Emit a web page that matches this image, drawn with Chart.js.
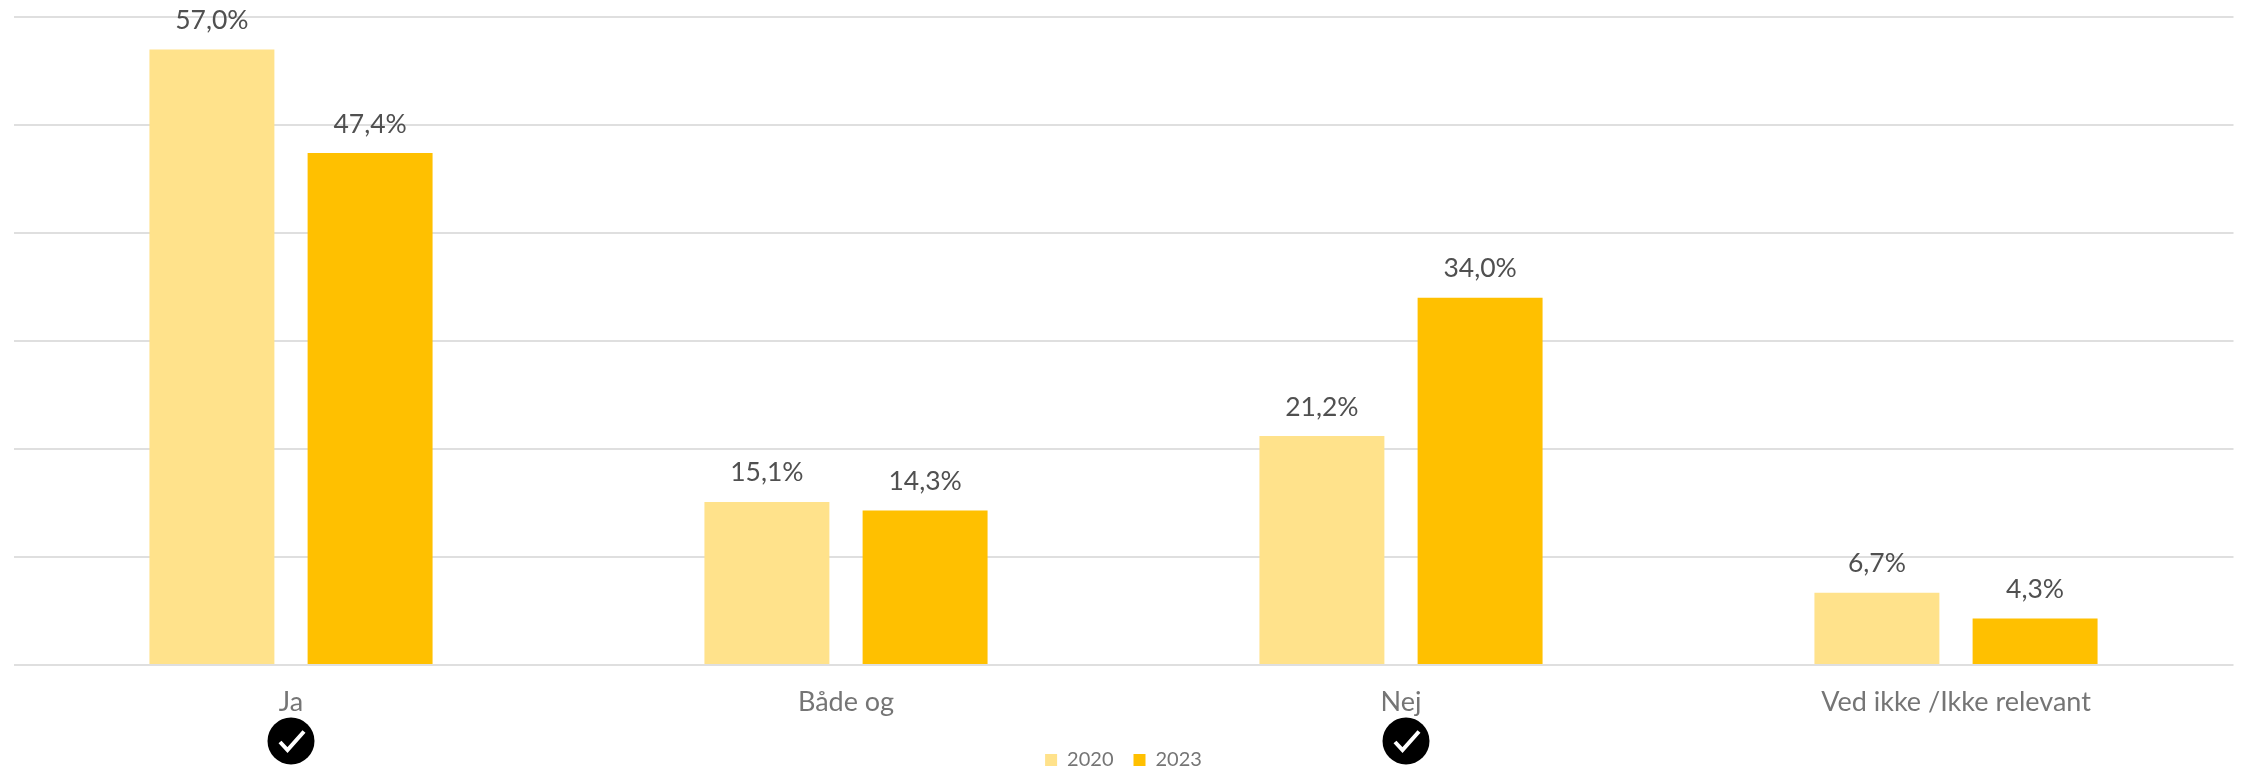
<!DOCTYPE html>
<html><head><meta charset="utf-8">
<style>html,body{margin:0;padding:0;background:#fff}#w{width:2244px;height:767px;position:relative}</style>
<script src="https://cdn.jsdelivr.net/npm/chart.js@4"></script></head>
<body><div id="w"><canvas id="c"></canvas></div>
<script>
const categories=["Ja","Både og","Nej","Ved ikke /Ikke relevant"];
const series2020=[57.0,15.1,21.2,6.7];
const series2023=[47.4,14.3,34.0,4.3];
const checked=["Ja","Nej"];
const FONT='Lato';
const fmt=v=>v.toFixed(1).replace('.',',')+'%';
const extras={id:'extras',afterDatasetsDraw(ch){
  const g=ch.ctx;
  g.save();
  g.font='26.5px '+FONT;g.fillStyle='#505050';g.textAlign='center';g.textBaseline='middle';
  ch.data.datasets.forEach((d,i)=>{
    ch.getDatasetMeta(i).data.forEach((b,k)=>{g.fillText(fmt(d.data[k]),b.x,b.y-29);});
  });
  const x=ch.scales.x;
  checked.forEach(n=>{
    const cx=x.getPixelForValue(categories.indexOf(n))+(n==='Nej'?5:0),cy=741;
    g.beginPath();g.arc(cx,cy,23.5,0,Math.PI*2);g.fillStyle='#000';g.fill();
    g.beginPath();g.moveTo(cx-11,cy+1);g.lineTo(cx-3.5,cy+9);g.lineTo(cx+13,cy-9.5);
    g.strokeStyle='#fff';g.lineWidth=4;g.stroke();
  });
  g.restore();
}};
new Chart(document.getElementById('c'),{
  type:'bar',
  data:{labels:categories,datasets:[
    {label:'2020',data:series2020,backgroundColor:'#FFE28B',categoryPercentage:0.57,barPercentage:0.79},
    {label:'2023',data:series2023,backgroundColor:'#FFC000',categoryPercentage:0.57,barPercentage:0.79}
  ]},
  options:{responsive:true,maintainAspectRatio:false,animation:false,
    layout:{padding:{left:13.5,right:10.5,top:17,bottom:-13}},
    plugins:{tooltip:{enabled:false},
      legend:{position:'bottom',labels:{boxWidth:12,boxHeight:12,padding:20,color:'#757575',font:{family:FONT,size:20}}}
    },
    scales:{
      x:{grid:{display:false},border:{display:false},
        ticks:{color:'#757575',font:{family:FONT,size:27},padding:13,maxRotation:0},
        afterFit(s){s.height=65;}},
      y:{min:0,max:60,afterFit(s){s.width=0;},
        ticks:{display:false,stepSize:10},border:{display:false},
        grid:{color:'#DFDFDF',lineWidth:2,drawTicks:false}}
    }
  },
  plugins:[extras]
});
</script></body></html>
